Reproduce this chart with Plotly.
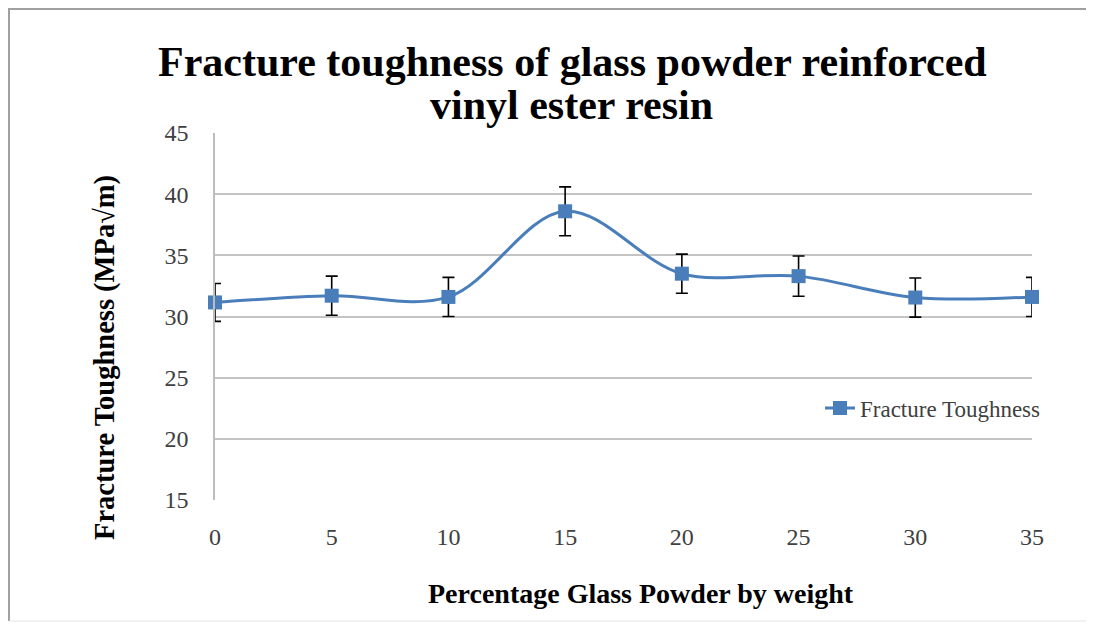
import plotly.graph_objects as go

pct = [0, 5, 10, 15, 20, 25, 30, 35]
toughness = [31.15, 31.7, 31.6, 38.6, 33.5, 33.3, 31.55, 31.6]
err = [1.55, 1.6, 1.6, 2.0, 1.6, 1.65, 1.6, 1.6]
y_ticks = [15, 20, 25, 30, 35, 40, 45]
x_ticks = [0, 5, 10, 15, 20, 25, 30, 35]

OFF = 8  # page body margin
W, H = 1094 - OFF, 628 - OFF
L, T = 215 - OFF, 133 - OFF
R, B = 62, 128

serif = "Liberation Serif, Times New Roman, serif"
blue = "#4A7EBB"

fig = go.Figure()
fig.add_trace(go.Scatter(
    x=pct, y=toughness, mode="lines+markers", name="Fracture Toughness",
    line=dict(color=blue, width=3, shape="spline", smoothing=1.0),
    marker=dict(symbol="square", size=14, color=blue),
    error_y=dict(type="data", array=err, visible=True, color="black",
                 thickness=1.6, width=6),
    cliponaxis=False,
))

def px_x(px):
    # page pixel -> paper coordinate
    return (px - OFF - L) / (W - L - R)

def px_y(py):
    return (H - B - (py - OFF)) / (H - T - B)

fig.update_layout(
    width=W, height=H,
    margin=dict(l=L, r=R, t=T, b=B),
    paper_bgcolor="white", plot_bgcolor="white",
    font=dict(family=serif, color="#404040"),
    xaxis=dict(
        range=[0, 35], tickvals=x_ticks, ticktext=[str(v) for v in x_ticks],
        showgrid=False, zeroline=False, showline=False,
        ticks="", ticklabelstandoff=20,
        tickfont=dict(family=serif, size=24, color="#404040"),
    ),
    yaxis=dict(
        range=[15, 45], tickvals=y_ticks,
        showgrid=True, gridcolor="#C4C4C4", gridwidth=1.5,
        zeroline=False, showline=True, linecolor="#BDBDBD", linewidth=1.5,
        ticks="", ticklabelstandoff=20,
        tickfont=dict(family=serif, size=24, color="#404040"),
    ),
    legend=dict(
        x=px_x(820), y=px_y(408), xanchor="left", yanchor="middle",
        bgcolor="rgba(0,0,0,0)", font=dict(family=serif, size=23, color="#404040"),
        itemwidth=30,
    ),
    showlegend=True,
)

fig.add_annotation(
    text="Fracture toughness of glass powder reinforced",
    xref="paper", yref="paper", x=px_x(572), y=px_y(62),
    showarrow=False, xanchor="center", yanchor="middle",
    font=dict(family=serif, size=42, color="black", weight="bold"),
)
fig.add_annotation(
    text="vinyl ester resin",
    xref="paper", yref="paper", x=px_x(571), y=px_y(105),
    showarrow=False, xanchor="center", yanchor="middle",
    font=dict(family=serif, size=42, color="black", weight="bold"),
)
fig.add_annotation(
    text="Fracture Toughness (MPa√m)", textangle=-90,
    xref="paper", yref="paper", x=px_x(105), y=px_y(358),
    showarrow=False, xanchor="center", yanchor="middle",
    font=dict(family=serif, size=28.5, color="black", weight="bold"),
)
fig.add_annotation(
    text="Percentage Glass Powder by weight",
    xref="paper", yref="paper", x=px_x(641), y=px_y(593),
    showarrow=False, xanchor="center", yanchor="middle",
    font=dict(family=serif, size=28, color="black", weight="bold"),
)

# outer frame
fig.add_shape(type="line", xref="paper", yref="paper",
              x0=px_x(9), x1=px_x(9), y0=px_y(8), y1=px_y(621),
              line=dict(color="#A0A0A0", width=2))
fig.add_shape(type="line", xref="paper", yref="paper",
              x0=px_x(9), x1=px_x(1087), y0=px_y(9), y1=px_y(9),
              line=dict(color="#A0A0A0", width=2))
fig.add_shape(type="line", xref="paper", yref="paper",
              x0=px_x(1087), x1=px_x(1087), y0=px_y(9), y1=px_y(621),
              line=dict(color="#E4E4E4", width=1))
fig.add_shape(type="line", xref="paper", yref="paper",
              x0=px_x(9), x1=px_x(1087), y0=px_y(621), y1=px_y(621),
              line=dict(color="#E4E4E4", width=1))

fig.write_html("out.html")
